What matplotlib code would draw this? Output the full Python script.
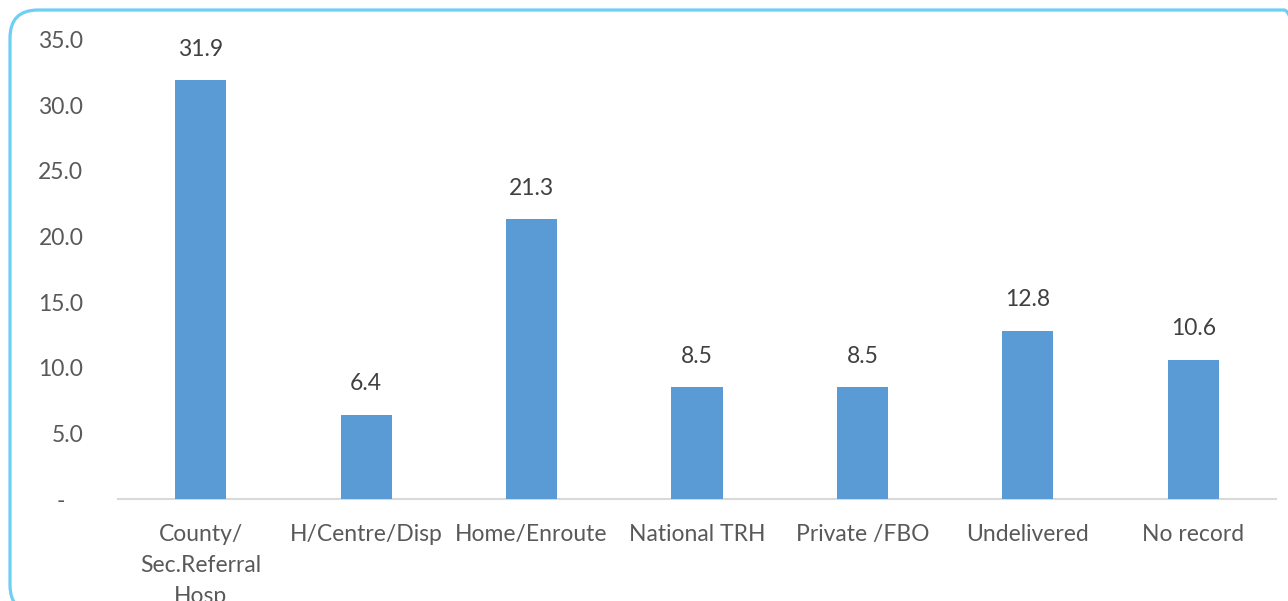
import matplotlib.pyplot as plt
import numpy as np
from matplotlib.patches import FancyBboxPatch
from matplotlib.transforms import IdentityTransform

categories = ["County/\nSec.Referral\nHosp", "H/Centre/Disp", "Home/Enroute",
              "National TRH", "Private /FBO", "Undelivered", "No record"]
values = [31.9, 6.4, 21.3, 8.5, 8.5, 12.8, 10.6]
y_ticks = [0, 5, 10, 15, 20, 25, 30, 35]
y_labels = ["-   ", "5.0", "10.0", "15.0", "20.0", "25.0", "30.0", "35.0"]

plt.rcParams['font.family'] = ['Lato', 'DejaVu Sans']

fig = plt.figure(figsize=(12.88, 6.01), dpi=100)
W, H = 1288, 601

# rounded chart border in pixel coords (runs off the right and bottom)
border = FancyBboxPatch((10, -12), 1302, H - 10 + 12,
                        boxstyle="round,pad=0,rounding_size=28",
                        transform=IdentityTransform(), fill=False,
                        edgecolor='#6dcff1', linewidth=2.3)
fig.patches.append(border)

ax = fig.add_axes([118 / W, 102 / H, (1276 - 118) / W, (561.5 - 102) / H])
x = np.arange(len(categories))
ax.bar(x, values, width=0.31, color='#5b9bd5', zorder=3)

for xi, v in zip(x, values):
    ax.annotate(f"{v:.1f}", (xi, v), xytext=(0, 31 * 72 / 100), textcoords='offset points',
                ha='center', va='center', fontsize=16.5, color='#404040')

ax.set_xlim(-0.5, len(categories) - 0.5)
ax.set_ylim(0, 35)
ax.set_yticks(y_ticks)
ax.set_yticklabels(y_labels)
ax.set_xticks(x)
ax.set_xticklabels(categories, linespacing=1.6)
ax.tick_params(axis='y', length=0, pad=25, labelsize=16.5, labelcolor='#595959')
ax.tick_params(axis='x', length=0, pad=18, labelsize=16.5, labelcolor='#595959')
for s in ['top', 'right', 'left']:
    ax.spines[s].set_visible(False)
ax.spines['bottom'].set_color('#d9d9d9')
ax.spines['bottom'].set_linewidth(1.5)

fig.savefig("out.png", dpi=100)
